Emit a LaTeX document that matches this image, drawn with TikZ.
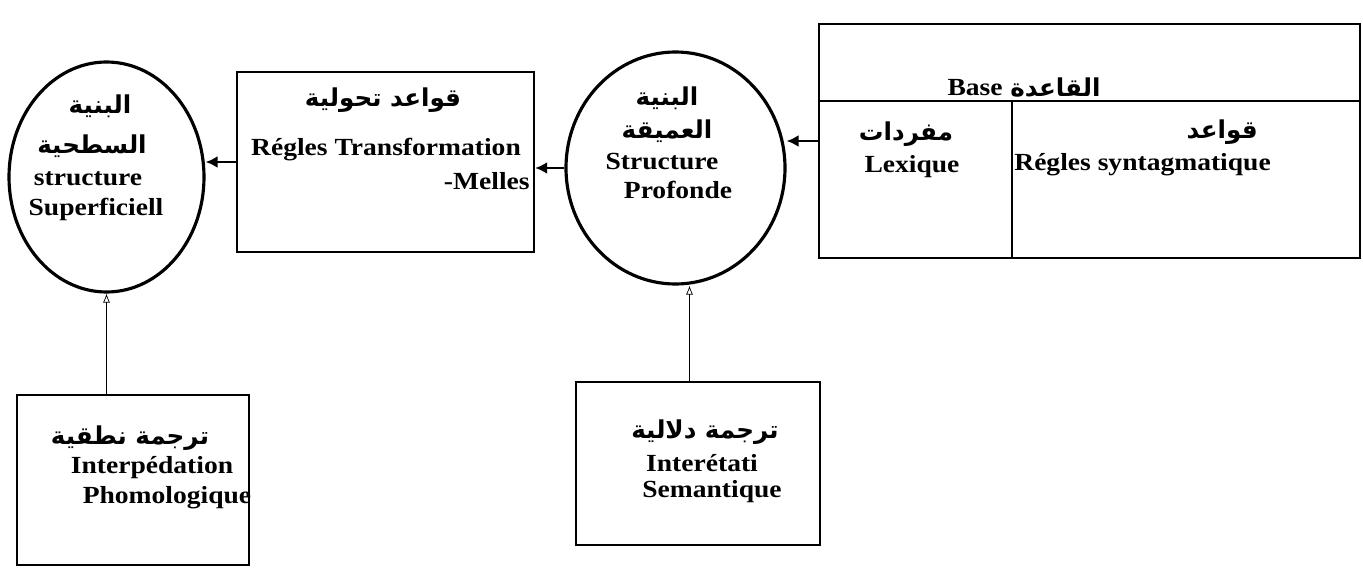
\documentclass[tikz,border=0pt]{standalone}
\usepackage{fontspec}
\setmainfont{Liberation Serif}[FakeStretch=1.12]
\newfontfamily\arabicfont[Script=Arabic]{DejaVu Sans}
\TeXXeTstate=1
\usetikzlibrary{arrows.meta,calc,positioning,shapes.geometric}
\newcommand{\arb}[1]{{\arabicfont\bfseries\beginR #1\endR}}

\begin{document}
\begin{tikzpicture}[x=0.2mm,y=-0.2mm,
  box/.style={draw,line width=1.3pt,inner sep=0pt},
  oval/.style={draw,ellipse,line width=1.8pt,inner sep=0pt},
  arr/.style={line width=1.4pt,-{Latex[length=2.4mm,width=2.4mm]}},
  tip/.style={thin,-{Latex[open,length=1.8mm,width=1.4mm]}},
  lbl/.style={font=\fontsize{14}{16}\selectfont\bfseries,inner sep=0pt},
  albl/.style={font=\fontsize{14}{16}\selectfont,inner sep=0pt}]
  \useasboundingbox (0,0) rectangle (1363,568);
  \node[oval,minimum width=39mm,minimum height=46mm] (cSurf) at (106.5,177) {};
  \node[box,minimum width=59.4mm,minimum height=36mm] (bTrans) at (385.5,162) {};
  \node[oval,minimum width=43.8mm,minimum height=46.4mm] (cProf) at (675.5,168) {};
  \node[box,minimum width=108.2mm,minimum height=46.8mm] (base) at (1089.5,141) {};
  \node[box,minimum width=46.4mm,minimum height=34mm] (bPhon) at (133,480) {};
  \node[box,minimum width=48.8mm,minimum height=32.6mm] (bSem) at (698,463.5) {};
  \draw[line width=1.3pt] ($(base.north west)+(0,78)$) -- ($(base.north east)+(0,78)$);
  \draw[line width=1.3pt] ($(base.north west)+(194,78)$) -- ($(base.south west)+(194,0)$);

  \node[albl] (sf1) at (100,106) {\arb{البنية}};
  \node[albl] (sf2) at (92,146) {\arb{السطحية}};
  \node[lbl] (sf3) at (88,179) {structure};
  \node[lbl] (sf4) at (96,209) {Superficiell};

  \node[albl] (tr1) at (383,100) {\arb{قواعد تحولية}};
  \node[lbl] (tr2) at (386,150) {Régles Transformation};
  \node[lbl,anchor=east] (tr3) at (530,181) {-Melles};

  \node[albl] (pr1) at (667,98) {\arb{البنية}};
  \node[albl] (pr2) at (667,131) {\arb{العميقة}};
  \node[lbl] (pr3) at (662,162) {Structure};
  \node[lbl] (pr4) at (678,190) {Profonde};

  \node[lbl,anchor=east] (bs1) at (1003,88) {Base};
  \node[albl,anchor=west] (bs2) at (1010,88) {\arb{القاعدة}};
  \node[albl] (lx1) at (906,134) {\arb{مفردات}};
  \node[lbl] (lx2) at (912,167) {Lexique};
  \node[albl,anchor=east] (sy1) at (1258,132) {\arb{قواعد}};
  \node[lbl,anchor=west] (sy2) at (1014,165) {Régles syntagmatique};

  \node[albl] (ph1) at (130,438) {\arb{ترجمة نطقية}};
  \node[lbl] (ph2) at (152,468) {Interpédation};
  \node[lbl] (ph3) at (167,498) {Phomologique};

  \node[albl] (se1) at (705,432) {\arb{ترجمة دلالية}};
  \node[lbl] (se2) at (702,463) {Interétati};
  \node[lbl] (se3) at (712,492) {Semantique};

  \draw[arr] (bTrans.west) -- (bTrans.west -| cSurf.east);
  \draw[arr] (cProf.west) -- (cProf.west -| bTrans.east);
  \draw[arr] (base.west) -- (base.west -| cProf.east);
  \draw[tip] (cSurf.south |- bPhon.north) -- (cSurf.south);
  \coordinate (pfFoot) at ($(cProf.south)+(14,0)$);
  \draw[tip] (pfFoot |- bSem.north) -- (pfFoot);
\end{tikzpicture}
\end{document}
